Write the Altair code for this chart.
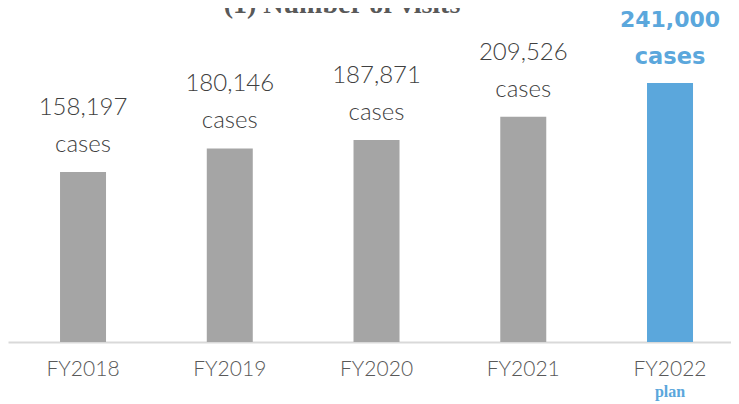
import altair as alt
import pandas as pd

years = ["FY2018", "FY2019", "FY2020", "FY2021", "FY2022"]
visits = [158197, 180146, 187871, 209526, 241000]
status = ["actual", "actual", "actual", "actual", "plan"]
unit = ["cases", "cases", "cases", "cases", "cases"]
title_text = "(1) Number of visits"
plan_label = "plan"

df = pd.DataFrame({"year": years, "visits": visits, "status": status, "unit": unit})
plan_df = pd.DataFrame({"year": [years[-1]], "label": [plan_label]})
title_df = pd.DataFrame({"t": [title_text]})

GRAY = "#A5A5A5"
BLUE = "#5BA7DC"
W, H = 723, 334
LFONT = "Lato"

xscale = alt.Scale(domain=years, paddingInner=0.6865, paddingOuter=0.3067, align=0.578, round=False)
x_enc = alt.X(
    "year:N",
    sort=years,
    scale=xscale,
    title=None,
    axis=alt.Axis(
        labelAngle=0,
        labelFont=LFONT,
        labelFontWeight=300,
        labelFontSize=21,
        labelColor="#595959",
        labelBaseline="middle",
        labelPadding=27,
        ticks=False,
        tickSize=0,
        domainColor="#D9D9D9",
        domainWidth=2,
        grid=False,
    ),
)
yscale = alt.Scale(domain=[0, 310800])
y_enc = alt.Y("visits:Q", scale=yscale, axis=None)

base = alt.Chart(df).encode(x=x_enc, y=y_enc)

bars = base.mark_bar(size=46).encode(
    color=alt.Color(
        "status:N",
        scale=alt.Scale(domain=["actual", "plan"], range=[GRAY, BLUE]),
        legend=None,
    )
)

actual = base.transform_filter(alt.datum.status == "actual")
plan = base.transform_filter(alt.datum.status == "plan")

num_a = actual.mark_text(
    dy=-64, baseline="middle", font=LFONT, fontWeight=300, fontSize=24, color="#404040"
).encode(text=alt.Text("visits:Q", format=","))
cases_a = actual.mark_text(
    dy=-27, baseline="middle", font=LFONT, fontWeight=300, fontSize=24, color="#404040"
).encode(text="unit:N")

num_p = plan.mark_text(
    dy=-63, baseline="middle", font="DejaVu Sans", fontSize=22,
    fontWeight="bold", color=BLUE
).encode(text=alt.Text("visits:Q", format=","))
cases_p = plan.mark_text(
    dy=-26, baseline="middle", font="DejaVu Sans", fontSize=22.5,
    fontWeight="bold", color=BLUE
).encode(text="unit:N")

plan_txt = alt.Chart(plan_df).mark_text(
    baseline="middle", font="Liberation Serif", fontSize=16, fontWeight="bold", color=BLUE
).encode(
    x=alt.X("year:N", sort=years, scale=xscale, title=None),
    y=alt.value(H + 50),
    text="label:N",
)

title_mark = alt.Chart(title_df).mark_text(
    baseline="alphabetic", font="Liberation Serif", fontSize=28, fontWeight="bold",
    color="#595959"
).encode(x=alt.value(334), y=alt.value(5), text="t:N")

chart = (
    alt.layer(bars, num_a, cases_a, num_p, cases_p, plan_txt, title_mark)
    .properties(
        width=W,
        height=H,
        autosize=alt.AutoSizeParams(type="none"),
        padding={"left": 0, "top": 0, "right": 0, "bottom": 62},
    )
    .configure_view(stroke=None)
)

chart.save("out.html", embed_options={"renderer": "svg", "actions": False})
